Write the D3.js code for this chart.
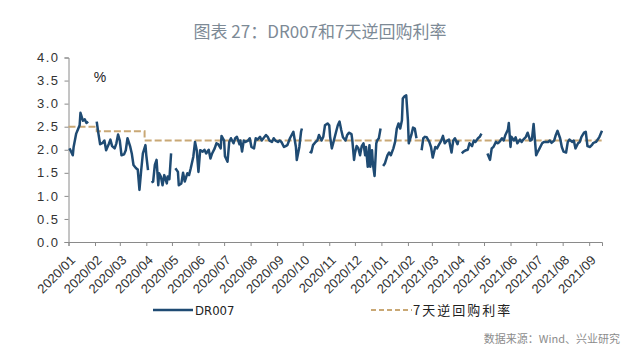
<!DOCTYPE html>
<html><head><meta charset="utf-8">
<script src="https://cdn.jsdelivr.net/npm/d3@7"></script>
<style>
html,body{margin:0;padding:0;background:#fff;}
svg{display:block;}
</style></head>
<body><svg id="c" width="640" height="355"></svg>
<script>
const titleText = "图表 27：DR007和7天逆回购利率";
const sourceText = "数据来源：Wind、兴业研究";
const seriesNames = ["DR007", "7天逆回购利率"];
const yTicks = [0, 0.5, 1, 1.5, 2, 2.5, 3, 3.5, 4];
const monthLabels = ["2020/01","2020/02","2020/03","2020/04","2020/05","2020/06","2020/07","2020/08","2020/09","2020/10","2020/11","2020/12","2021/01","2021/02","2021/03","2021/04","2021/05","2021/06","2021/07","2021/08","2021/09"];
const axisEnd = "2021-09-16";

const dr007Dates = [
"2020-01-02","2020-01-03","2020-01-06","2020-01-07","2020-01-10","2020-01-12","2020-01-14","2020-01-15","2020-01-17","2020-01-18","2020-01-20","2020-01-22","2020-01-24","2020-01-28",
"2020-02-03","2020-02-05","2020-02-07","2020-02-10","2020-02-12","2020-02-14","2020-02-17","2020-02-19","2020-02-21","2020-02-24","2020-02-26","2020-02-28",
"2020-03-01","2020-03-03","2020-03-06","2020-03-08","2020-03-10","2020-03-13","2020-03-15","2020-03-17","2020-03-20","2020-03-22","2020-03-24","2020-03-26","2020-03-28","2020-03-31",
"2020-04-01","2020-04-03","2020-04-05","2020-04-07","2020-04-09","2020-04-11","2020-04-13","2020-04-15","2020-04-16","2020-04-18","2020-04-20","2020-04-22","2020-04-25","2020-04-26","2020-04-28","2020-04-30",
"2020-05-03","2020-05-05","2020-05-08","2020-05-09","2020-05-12","2020-05-14","2020-05-16","2020-05-19","2020-05-21","2020-05-23","2020-05-26","2020-05-28","2020-05-30",
"2020-06-01","2020-06-03","2020-06-06","2020-06-08","2020-06-10","2020-06-13","2020-06-15","2020-06-17","2020-06-20","2020-06-22","2020-06-24","2020-06-27","2020-06-28",
"2020-07-01","2020-07-02","2020-07-05","2020-07-07","2020-07-09","2020-07-12","2020-07-14","2020-07-16","2020-07-19","2020-07-20","2020-07-22","2020-07-24","2020-07-26","2020-07-29","2020-07-31",
"2020-08-02","2020-08-05","2020-08-07","2020-08-09","2020-08-12","2020-08-14","2020-08-16","2020-08-19","2020-08-21","2020-08-23","2020-08-26","2020-08-28","2020-08-30",
"2020-09-02","2020-09-04","2020-09-06","2020-09-09","2020-09-11","2020-09-13","2020-09-16","2020-09-18","2020-09-20","2020-09-23","2020-09-24","2020-09-27","2020-09-29","2020-09-30",
"2020-10-04","2020-10-09","2020-10-11","2020-10-13","2020-10-16","2020-10-18","2020-10-20","2020-10-23","2020-10-25","2020-10-27","2020-10-30",
"2020-11-01","2020-11-02","2020-11-04","2020-11-06","2020-11-09","2020-11-11","2020-11-13","2020-11-15","2020-11-17","2020-11-20","2020-11-22","2020-11-24","2020-11-27","2020-11-28","2020-11-30",
"2020-12-01","2020-12-03","2020-12-05","2020-12-07","2020-12-09","2020-12-11","2020-12-13","2020-12-14","2020-12-16","2020-12-18","2020-12-19","2020-12-21","2020-12-22","2020-12-24","2020-12-26","2020-12-27","2020-12-29","2020-12-31",
"2021-01-02","2021-01-03","2021-01-05","2021-01-08","2021-01-10","2021-01-12","2021-01-15","2021-01-17","2021-01-19","2021-01-21","2021-01-23","2021-01-25","2021-01-26","2021-01-28","2021-01-30",
"2021-02-01","2021-02-02","2021-02-05","2021-02-07","2021-02-09","2021-02-11","2021-02-14","2021-02-17","2021-02-19","2021-02-21","2021-02-23","2021-02-26","2021-02-28",
"2021-03-02","2021-03-05","2021-03-07","2021-03-09","2021-03-12","2021-03-14","2021-03-16","2021-03-19","2021-03-21","2021-03-24","2021-03-26","2021-03-28","2021-03-31",
"2021-04-01","2021-04-03","2021-04-05","2021-04-07","2021-04-10","2021-04-12","2021-04-14","2021-04-17","2021-04-19","2021-04-21","2021-04-24","2021-04-26","2021-04-28",
"2021-05-02","2021-05-05","2021-05-08","2021-05-10","2021-05-12","2021-05-15","2021-05-17","2021-05-19","2021-05-22","2021-05-24","2021-05-26","2021-05-29","2021-05-30",
"2021-06-01","2021-06-02","2021-06-05","2021-06-07","2021-06-09","2021-06-12","2021-06-14","2021-06-16","2021-06-19","2021-06-21","2021-06-24","2021-06-26","2021-06-28",
"2021-07-01","2021-07-03","2021-07-05","2021-07-08","2021-07-10","2021-07-12","2021-07-15","2021-07-17","2021-07-19","2021-07-22","2021-07-24","2021-07-26","2021-07-29","2021-07-31",
"2021-08-02","2021-08-05","2021-08-07","2021-08-09","2021-08-12","2021-08-14","2021-08-16","2021-08-19","2021-08-21","2021-08-23","2021-08-26","2021-08-28","2021-08-30",
"2021-09-02","2021-09-04","2021-09-06","2021-09-09","2021-09-11","2021-09-13","2021-09-16"
];
const dr007Values = [
2.03,2.00,1.88,2.06,2.35,2.44,2.53,2.80,2.68,2.63,2.66,2.58,2.61,null,
2.61,2.35,2.12,2.15,2.20,1.99,2.12,2.22,2.08,2.03,2.14,2.33,
2.20,1.88,1.90,1.99,2.25,2.08,1.92,1.67,1.60,1.57,1.13,1.55,1.92,2.10,
1.88,1.56,null,1.29,1.31,1.67,1.78,1.23,1.49,1.42,1.23,1.45,1.27,1.42,1.36,1.92,
null,1.60,1.52,1.23,1.27,1.50,1.31,1.49,1.45,1.60,1.85,2.17,1.99,
1.52,1.99,1.96,2.00,1.92,2.00,1.81,1.92,2.03,2.14,2.12,2.03,2.30,
2.20,1.86,1.74,2.17,2.25,2.14,2.25,2.28,2.12,2.20,1.96,2.20,2.17,2.20,2.25,
2.06,2.03,2.25,2.22,2.28,2.20,2.25,2.32,2.28,2.20,2.17,2.25,2.20,
2.17,2.20,2.17,2.06,2.08,2.10,2.25,2.32,2.39,2.06,1.78,2.06,2.39,2.46,
null,1.96,1.94,2.10,2.17,2.20,2.32,2.20,2.28,2.53,2.57,
2.53,2.28,2.03,2.17,2.39,2.53,2.61,2.43,2.27,2.20,2.32,2.37,2.34,2.20,1.78,
1.92,2.08,2.03,1.88,2.08,2.14,1.88,2.06,1.63,2.10,1.63,1.99,1.70,1.43,2.14,2.20,2.25,2.46,
null,1.65,1.70,1.88,1.94,1.88,2.03,2.17,2.46,2.57,2.46,2.64,3.11,3.16,3.18,
2.64,2.14,2.32,2.48,2.46,2.25,null,1.99,2.25,2.28,2.27,2.17,2.06,
1.83,2.06,2.03,2.10,2.20,2.30,2.14,2.20,2.22,1.94,2.20,2.25,2.12,
2.20,null,1.92,1.96,1.99,2.00,2.14,2.08,2.20,2.17,2.25,2.28,2.35,
null,1.92,1.78,2.03,2.06,2.17,2.14,2.17,2.25,2.20,2.32,2.44,2.58,
2.06,2.28,2.20,2.27,2.14,2.22,2.17,2.22,2.28,2.37,2.20,2.22,2.56,
1.88,1.96,2.03,2.14,2.17,2.17,2.17,2.20,2.15,2.20,2.32,2.41,2.25,2.06,
1.96,1.94,2.17,2.22,2.17,2.20,2.03,2.14,2.17,2.28,2.37,2.39,2.08,
2.06,2.10,2.15,2.17,2.22,2.28,2.41
];

const repoDates = ["2020-01-01","2020-02-03","2020-03-30","2021-09-16"];
const repoValues = [2.5, 2.4, 2.2, 2.2];

const parse = d3.utcParse("%Y-%m-%d");
const dr = dr007Dates.map((d,i)=>({date:parse(d), v:dr007Values[i]}));
const rp = repoDates.map((d,i)=>({date:parse(d), v:repoValues[i]}));
const monthDates = monthLabels.map(m=>parse(m.replace("/","-")+"-01"));

const svg = d3.select("#c");
const pL = 68.5, pR = 602, pT = 57.5, pB = 242;
const x = d3.scaleUtc().domain([parse("2020-01-01"), parse(axisEnd)]).range([pL, pR]);
const y = d3.scaleLinear().domain([0, 4]).range([pB, pT]);

// title
svg.append("text").attr("x", 320).attr("y", 38).attr("text-anchor","middle")
  .attr("font-family","'Noto Sans CJK SC', 'Noto Sans', sans-serif").attr("font-size",17)
  .attr("fill","#7d8a96").text(titleText);

// y axis
const yAxis = d3.axisLeft(y).tickValues(yTicks).tickSize(4).tickFormat(d3.format(".1f"));
const gy = svg.append("g").attr("transform",`translate(${pL},0)`).call(yAxis);
gy.select(".domain").attr("stroke","#8a8a8a");
gy.selectAll(".tick line").attr("stroke","#8a8a8a");
gy.selectAll(".tick text").attr("font-family","'Liberation Sans', Arial, sans-serif")
  .attr("font-size",13).attr("fill","#333").attr("letter-spacing","1.5px").attr("x",-9);

// x axis
const xAxis = d3.axisBottom(x).tickValues(monthDates).tickSize(4).tickFormat((d,i)=>monthLabels[i]);
const gx = svg.append("g").attr("transform",`translate(0,${pB})`).call(xAxis);
gx.select(".domain").attr("stroke","#8a8a8a");
gx.selectAll(".tick line").attr("stroke","#8a8a8a");
gx.selectAll(".tick text").attr("font-family","'Liberation Sans', Arial, sans-serif")
  .attr("font-size",13).attr("fill","#333")
  .attr("text-anchor","end").attr("dy",0).attr("y",0)
  .attr("transform","translate(7,19) rotate(-45)");

// % label
svg.append("text").attr("x",100).attr("y",82).attr("text-anchor","middle")
  .attr("font-family","'Liberation Sans', Arial, sans-serif").attr("font-size",14)
  .attr("fill","#222").text("%");

// lines
const lineDr = d3.line().defined(d=>d.v!==null).x(d=>x(d.date)).y(d=>y(d.v));
const lineRp = d3.line().x(d=>x(d.date)).y(d=>y(d.v)).curve(d3.curveStepAfter);

svg.append("path").datum(rp).attr("d",lineRp).attr("fill","none")
  .attr("stroke","#c9a875").attr("stroke-width",2).attr("stroke-dasharray","7,3");
svg.append("path").datum(dr).attr("d",lineDr).attr("fill","none")
  .attr("stroke","#1f4b73").attr("stroke-width",2.5).attr("stroke-linejoin","round");

// legend
const lg = svg.append("g");
lg.append("line").attr("x1",153).attr("x2",193).attr("y1",310).attr("y2",310)
  .attr("stroke","#1f4b73").attr("stroke-width",2.5);
lg.append("text").attr("x",195).attr("y",315).attr("font-family","'DejaVu Sans Condensed', 'DejaVu Sans', sans-serif")
  .attr("font-size",13).attr("fill","#222").text(seriesNames[0]);
lg.append("line").attr("x1",371).attr("x2",412).attr("y1",310).attr("y2",310)
  .attr("stroke","#c9a875").attr("stroke-width",2).attr("stroke-dasharray","5,3");
lg.append("text").attr("x",413).attr("y",315).attr("font-family","'Noto Sans CJK SC', sans-serif")
  .attr("font-size",13).attr("letter-spacing","2px").attr("fill","#222").text(seriesNames[1]);

// source
svg.append("text").attr("x",620).attr("y",343).attr("text-anchor","end")
  .attr("font-family","'Noto Sans CJK SC', sans-serif").attr("font-size",11)
  .attr("fill","#8c8c8c").text(sourceText);
</script></body></html>
